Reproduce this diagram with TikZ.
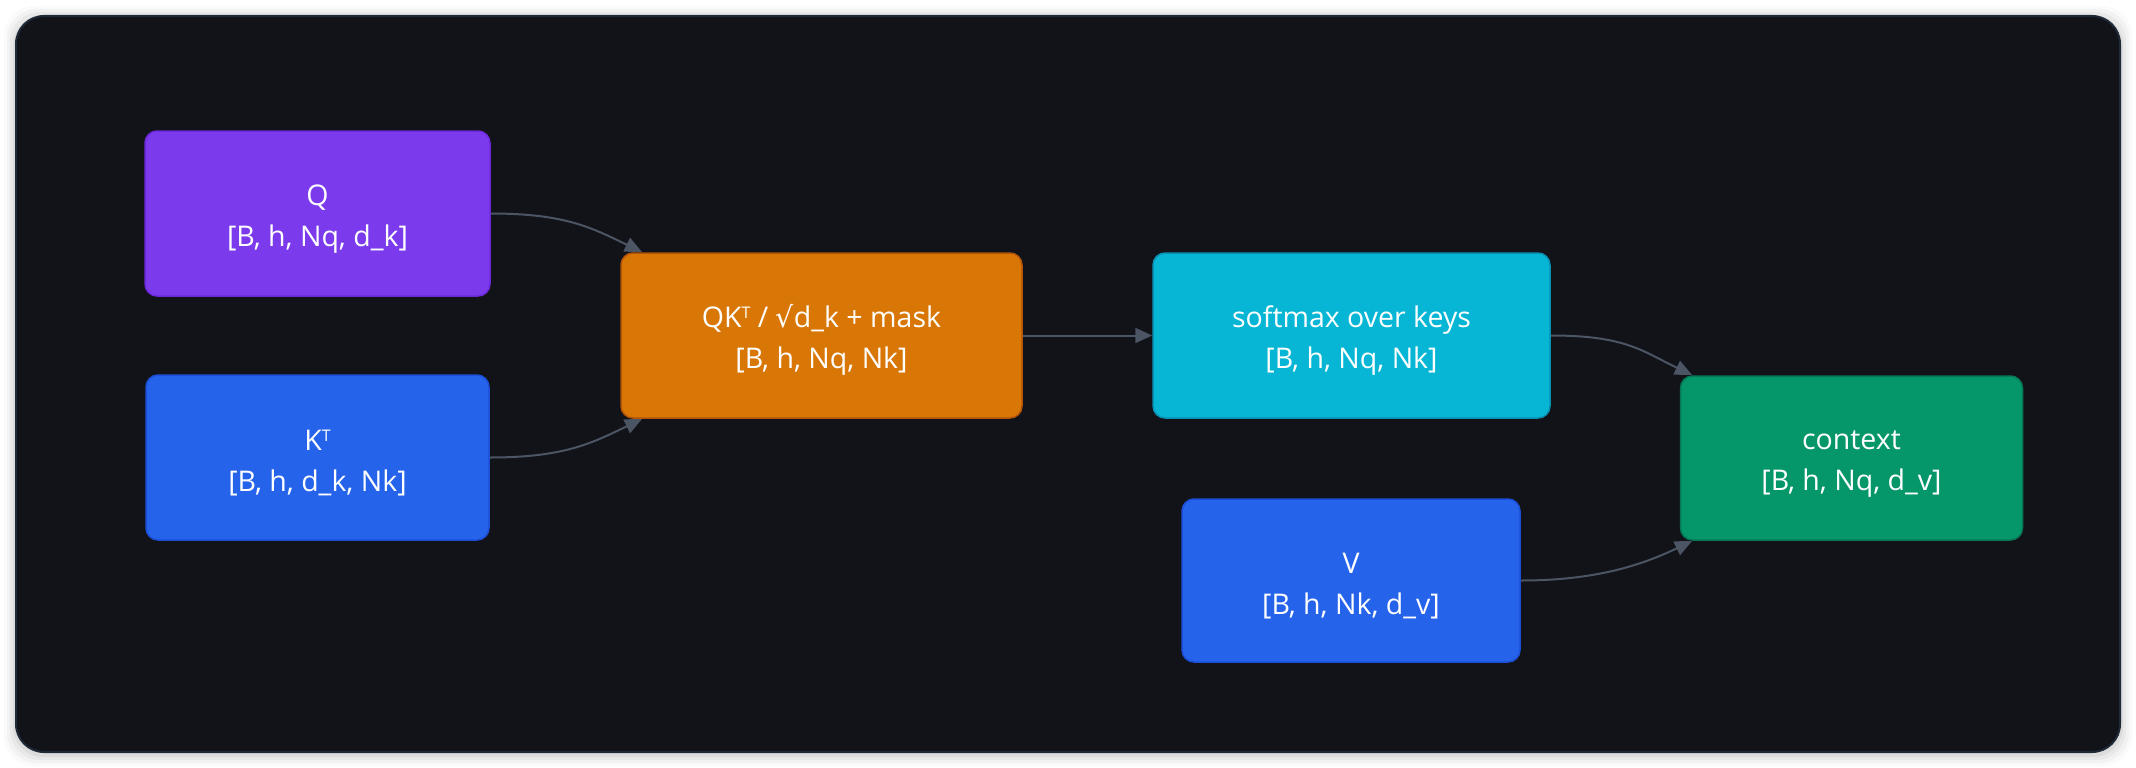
\documentclass[tikz,border=0pt]{standalone}
\usepackage{fontspec}
\setmainfont{Open Sans}
\newfontfamily\symf{DejaVu Sans}
\usetikzlibrary{arrows.meta}
\definecolor{pagebg}{HTML}{FFFFFF}
\definecolor{framebg}{HTML}{111319}
\definecolor{frameline}{HTML}{1F2937}
\definecolor{violetF}{HTML}{7C3AED}
\definecolor{violetD}{HTML}{6D28D9}
\definecolor{blueF}{HTML}{2563EB}
\definecolor{blueD}{HTML}{1D4ED8}
\definecolor{amberF}{HTML}{D97706}
\definecolor{amberD}{HTML}{B45309}
\definecolor{cyanF}{HTML}{06B6D4}
\definecolor{cyanD}{HTML}{0891B2}
\definecolor{greenF}{HTML}{059669}
\definecolor{greenD}{HTML}{047857}
\definecolor{edgec}{HTML}{4B5563}
\newcommand{\firststrut}{\rule{0pt}{31pt}}
\newcommand{\supT}{\raisebox{8.5pt}{\fontsize{16}{16}\selectfont T}}
\tikzset{
  box/.style={rectangle, rounded corners=12pt, line width=1.5pt, inner sep=0pt,
    align=center, text=white, font=\fontsize{28.5}{41}\selectfont},
  edge/.style={draw=edgec, line width=2pt, -{Triangle[length=17pt,width=15pt]}},
}
\begin{document}
\begin{tikzpicture}[x=1pt,y=-1pt]
\useasboundingbox (0,0) rectangle (2136,768);
\fill[pagebg] (0,0) rectangle (2136,768);
% soft shadow of frame
\foreach \i/\o in {12/0.02,9/0.03,6/0.04,3/0.05}{
  \fill[black,opacity=\o,rounded corners=30pt] (16-\i,18-\i) rectangle (2120+\i,754+\i);
}
\draw[fill=framebg,draw=frameline,line width=2pt,rounded corners=28pt] (16,16) rectangle (2120,752);

\node[box, fill=violetF, draw=violetD, minimum width=345pt, minimum height=165pt] (q) at (317.5,213.5) {\firststrut Q\\{[}B, h, Nq, d\_k{]}};
\node[box, fill=blueF, draw=blueD, minimum width=343pt, minimum height=165pt] (k) at (317.5,457.5) {\firststrut K\supT\\{[}B, h, d\_k, Nk{]}};
\node[box, fill=amberF, draw=amberD, minimum width=401pt, minimum height=165pt] (qk) at (821.5,335.5) {\firststrut QK\supT{} / {\symf √}d\_k + mask\\{[}B, h, Nq, Nk{]}};
\node[box, fill=cyanF, draw=cyanD, minimum width=397pt, minimum height=165pt] (sm) at (1351.5,335.5) {\firststrut softmax over keys\\{[}B, h, Nq, Nk{]}};
\node[box, fill=blueF, draw=blueD, minimum width=338pt, minimum height=163pt] (v) at (1351,580.5) {\firststrut V\\{[}B, h, Nk, d\_v{]}};
\node[box, fill=greenF, draw=greenD, minimum width=342pt, minimum height=164pt] (ctx) at (1851.5,458) {\firststrut context\\{[}B, h, Nq, d\_v{]}};

\coordinate (qkin1) at (642,252);
\coordinate (qkin2) at (642,419);
\coordinate (ctxin1) at (1692,375);
\coordinate (ctxin2) at (1692,541);

\draw[edge] (q.east) .. controls +(75,0) and +(-50,-24) .. (qkin1);
\draw[edge] (k.east) .. controls +(75,0) and +(-50,24) .. (qkin2);
\draw[edge] (qk.east) -- (sm.west);
\draw[edge] (sm.east) .. controls +(75,0) and +(-50,-24) .. (ctxin1);
\draw[edge] (v.east) .. controls +(75,0) and +(-50,24) .. (ctxin2);
\end{tikzpicture}
\end{document}
